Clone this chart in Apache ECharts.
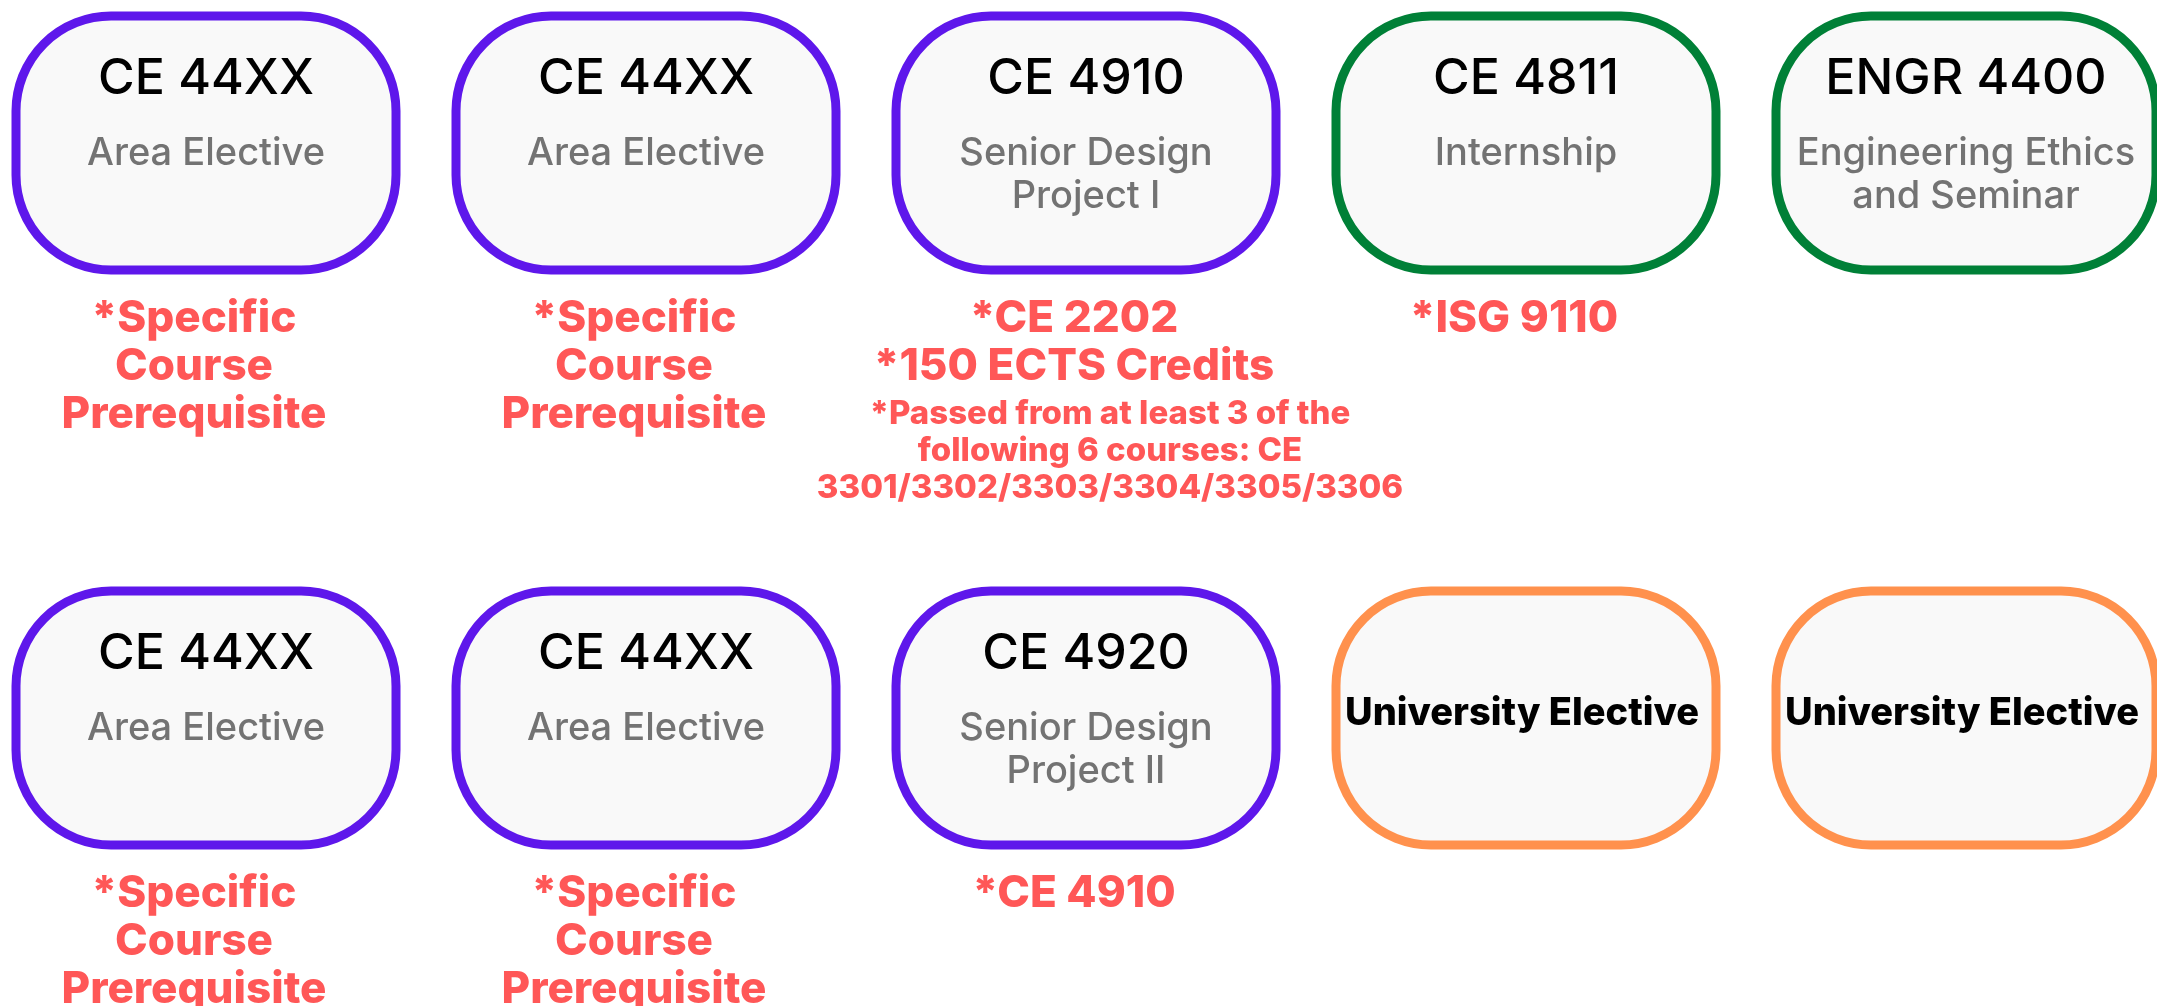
<!DOCTYPE html>
<html>
<head>
<meta charset="utf-8">
<title>CE course boxes</title>
<script src="https://cdn.jsdelivr.net/npm/echarts@6/dist/echarts.min.js"></script>
<style>
  html, body { margin: 0; padding: 0; background: #fff; }
  #chart { width: 2157px; height: 1006px; }
</style>
</head>
<body>
<div id="chart"></div>
<script>
// course grid: column / row of every box
const columns = [0, 1, 2, 3, 4, 0, 1, 2, 3, 4];
const rows = [0, 0, 0, 0, 0, 1, 1, 1, 1, 1];
const codes = ['CE 44XX', 'CE 44XX', 'CE 4910', 'CE 4811', 'ENGR 4400',
               'CE 44XX', 'CE 44XX', 'CE 4920', '', ''];
const names = [
  ['Area Elective'], ['Area Elective'], ['Senior Design', 'Project I'], ['Internship'],
  ['Engineering Ethics', 'and Seminar'],
  ['Area Elective'], ['Area Elective'], ['Senior Design', 'Project II'],
  ['University Elective'], ['University Elective']
];
const groups = ['area', 'area', 'area', 'required', 'required',
                'area', 'area', 'area', 'university', 'university'];
const prereqs = [
  ['*Specific', 'Course', 'Prerequisite'],
  ['*Specific', 'Course', 'Prerequisite'],
  ['*CE 2202', '*150 ECTS Credits'],
  ['*ISG 9110'],
  [],
  ['*Specific', 'Course', 'Prerequisite'],
  ['*Specific', 'Course', 'Prerequisite'],
  ['*CE 4910'],
  [],
  []
];
const notes = [
  [], [],
  ['*Passed from at least 3 of the', 'following 6 courses: CE', '3301/3302/3303/3304/3305/3306'],
  [], [], [], [], [], [], []
];

const groupColors = { area: '#5e17eb', required: '#008037', university: '#ff914d' };

const chart = echarts.init(document.getElementById('chart'));

function txt(text, x, y, size, weight, color) {
  return {
    type: 'text',
    style: {
      text: text, x: x, y: y,
      align: 'center', verticalAlign: 'middle',
      fontFamily: 'Inter', fontSize: size, fontWeight: weight,
      fill: color
    }
  };
}

function renderItem(params, api) {
  const i = api.value(2);
  const p = api.coord([api.value(0), api.value(1)]);
  const cx = p[0], cy = p[1];
  const children = [{
    type: 'rect',
    shape: { x: cx - 190, y: cy - 127, width: 380, height: 254, r: 95 },
    style: { fill: '#f9f9f9', stroke: groupColors[groups[i]], lineWidth: 9 }
  }];
  if (codes[i]) {
    children.push(txt(codes[i], cx, cy - 64, 50, 500, '#000'));
    names[i].forEach(function (line, k) {
      children.push(txt(line, cx, cy + 11 + k * 43, 38, 500, '#737373'));
    });
  } else {
    children.push(txt(names[i][0], cx - 4, cy - 4, 38, 800, '#000'));
  }
  prereqs[i].forEach(function (line, k) {
    children.push(txt(line, cx - 12, cy + 176 + k * 48, 44, 800, '#ff5757'));
  });
  notes[i].forEach(function (line, k) {
    children.push(txt(line, cx + 24, cy + 271 + k * 37, 33, 800, '#ff5757'));
  });
  return { type: 'group', children: children };
}

const option = {
  backgroundColor: '#ffffff',
  animation: false,
  grid: { left: 0, right: 0, top: 0, bottom: 0 },
  xAxis: { type: 'value', min: -0.4682, max: 4.4341, show: false },
  yAxis: { type: 'value', min: -0.2487, max: 1.5009, inverse: true, show: false },
  series: [{
    type: 'custom',
    clip: false,
    renderItem: renderItem,
    data: columns.map(function (c, i) { return [c, rows[i], i]; })
  }]
};

chart.setOption(option);
</script>
</body>
</html>
